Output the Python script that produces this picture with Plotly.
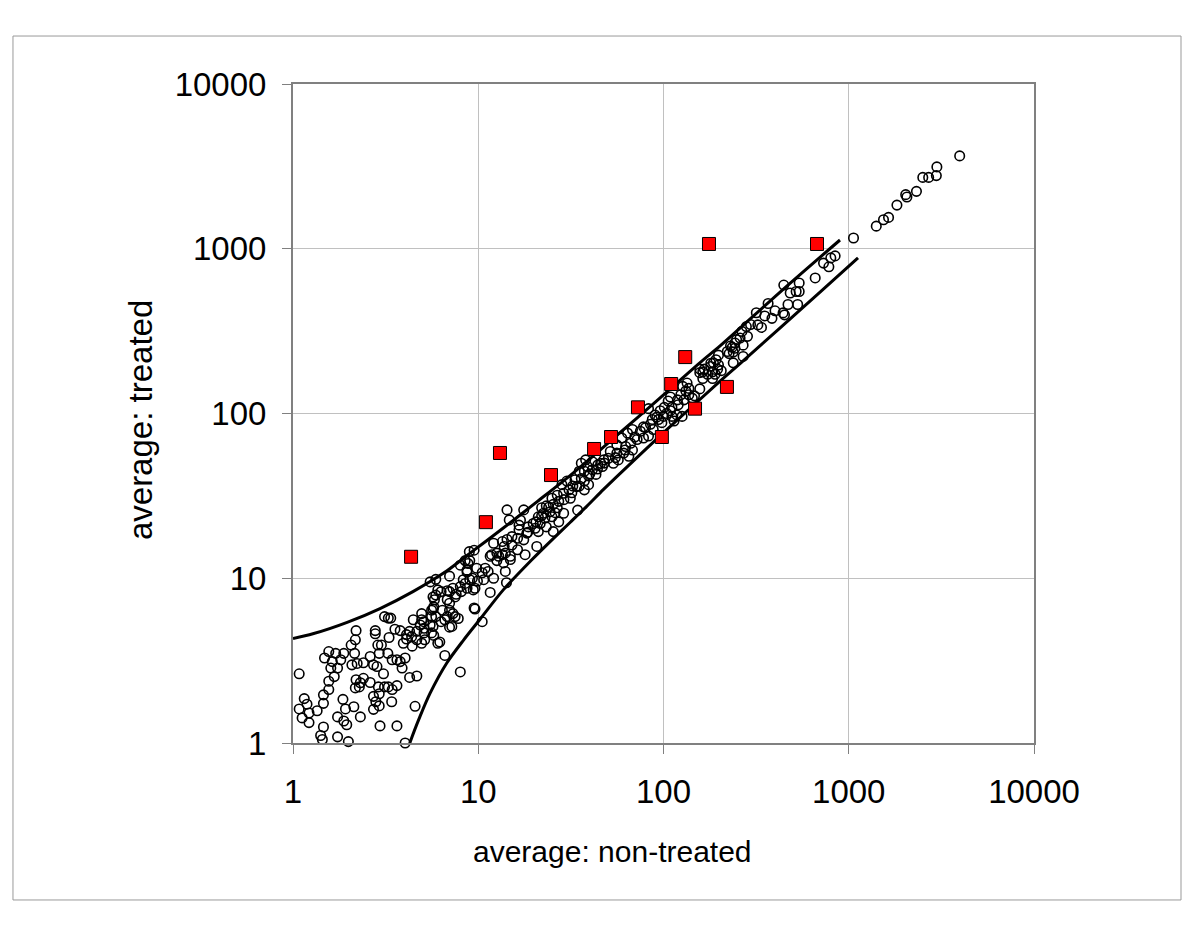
import plotly.graph_objects as go

# ---- data ----
circ_x = [1.08,1.15,1.19,1.08,1.12,1.22,1.22,1.35,1.46,1.46,
          1.56,1.56,1.46,1.41,1.44,1.74,1.99,1.74,1.88,1.95,
          1.92,1.86,2.13,2.31,1.48,1.56,1.70,1.63,1.81,1.88,
          1.6,1.74,1.67,2.06,2.17,2.19,2.15,2.08,2.22,2.4,
          2.61,2.72,2.78,2.78,2.87,3.0,2.92,3.25,2.84,3.08,
          2.19,2.31,2.4,2.17,2.28,2.61,2.72,2.89,3.12,2.92,
          2.8,2.72,2.92,3.27,3.43,3.64,3.41,2.95,3.64,3.12,
          3.27,3.37,3.55,3.79,3.3,3.43,3.64,3.79,3.88,4.03,
          4.26,4.66,4.56,4.03,3.94,4.1,4.37,4.26,4.46,4.95,
          5.08,4.86,4.66,4.95,5.14,5.6,5.5,5.6,5.7,4.4,
          7.0,5.5,5.9,6.3,5.9,6.8,7.3,8.5,8.1,7.5,
          8.7,9.3,9.6,8.8,8.0,9.6,8.0,5.7,5.75,6.4,
          5.9,6.6,7.3,7.8,7.2,6.2,5.75,6.6,7.0,
          14.3,14.7,16.6,12.1,13.5,14.3,15.2,16.3,12.6,13.5,
          11.6,14.9,12.6,13.7,14.9,8.95,9.5,8.5,9.0,8.7,
          9.8,10.9,10.5,11.3,12.1,14.0,14.2,11.6,10.7,9.9,
          9.0,8.3,8.0,8.7,9.4,7.0,7.6,6.8,6.05,5.8,
          7.0,7.5,6.8,6.3,5.6,4.95,5.7,5.1,4.1,4.66,
          5.1,6.05,7.0,9.5,10.5,
          51.6,56,50.4,47.6,53.6,46.8,44.2,41.3,38,36,
          38.8,41.3,37.4,35.1,43.2,39.4,36,33.3,37.4,39.4,
          35.1,32.4,30.1,28.3,30.9,37.4,28.9,31.4,26.7,25,
          27.2,25.4,23.3,22,26.7,28.9,34.4,24.4,22.5,21.1,
          22.9,25,27.2,21.6,19.8,23.3,20.3,18.6,17.6,16.9,
          16.6,18.3,21.1,25.4,15.2,16.3,17.6,13.8,20.7,11.8,
          12.9,14,17.9,
          192,180,166,157,173,184,163,196,134,127,
          132,124,137,129,143,109,106,101,109,96,
          90,100,94,87,83,85,80,88,75,83,
          78,72,68,64,59.5,66.5,62.5,56,68,61,
          57,45.8,65,111,118,126,
          157,186,221,235,248,238,205,190,157,147,137,119,111,114,98,
          659,446,540,483,520,540,470,530,367,400,
          317,352,385,450,323,338,295,265,284,259,
          243,230,243,269,238,226,198,180,198,269,
          163,184,844,800,731,781,442,280,
          1061,1408,1540,1640,1820,2030,2060,2320,2510,2700,2970,2990,3970,
          22,24,26,29,32,34,40,44,48,55,62,70,78,92,104,120,18.5,20.5]
circ_y = [2.63,1.86,1.72,1.61,1.42,1.52,1.33,1.57,1.74,1.96,
          2.11,2.37,1.25,1.11,1.05,1.09,1.02,1.44,1.36,1.29,
          1.61,1.84,1.66,1.44,3.28,3.59,3.5,3.12,3.2,3.5,
          2.85,2.85,2.53,3.93,4.23,4.81,3.5,2.98,3.04,3.07,
          3.35,2.98,4.81,4.6,3.93,3.93,3.5,3.5,2.91,2.63,
          2.42,2.32,2.47,2.16,2.19,2.33,1.92,2.19,2.19,1.99,
          1.78,1.6,1.68,2.19,2.11,2.23,1.78,1.27,1.27,5.85,
          5.73,5.73,4.9,4.81,4.37,3.2,3.2,3.12,2.85,3.28,
          2.5,2.55,1.67,1.0,4.03,4.28,4.42,4.76,5.6,6.1,
          5.45,5.2,4.76,4.03,4.23,4.66,5.2,5.85,6.5,3.87,
          10.3,9.5,9.85,8.3,7.9,8.4,8.7,9.3,8.3,7.7,
          10.9,10.0,8.7,12.3,12.0,6.5,2.7,7.7,6.7,6.4,
          5.85,5.6,6.1,5.7,5.1,4.1,4.5,3.4,7.05,
          26,22.6,21,16.3,16.7,17.2,15.9,14.9,14.2,13.9,
          13.6,13.6,12.8,12.4,13.0,14.5,14.8,12.8,12.8,11.2,
          11.5,11.5,10.8,11.0,10.0,11.0,9.4,8.2,9.8,9.6,
          9.8,9.8,8.9,8.7,8.5,8.3,8.0,7.4,8.5,7.4,
          6.4,5.85,5.85,5.45,6.4,5.6,5.1,4.97,4.55,4.23,
          4.66,4.03,5.05,6.6,5.45,
          58.8,57.5,53.5,52.3,49.9,47.7,48.8,51,52.3,49.9,
          47.7,45.6,44.6,44.6,42.7,41.8,40.3,39.6,38.9,37,
          36.3,36.3,38.9,37,34.4,34.4,32.8,30.6,31.9,30.6,
          29.3,28.1,27.5,26.8,26.8,24.8,25.9,25.3,24.8,23.6,
          23.2,23.6,22,21.5,21.5,20.5,20.1,20.5,26,22.5,
          19.7,18.8,19.2,19.2,17.9,17.5,17.1,15.6,15.6,13.9,
          13.6,14.2,13.9,
          212,193,186,177,173,163,163,186,153,146,
          137,130,130,121,124,126,119,109,104,104,
          98,96,92,92,107,86,82,80,78,73,
          71,69.5,80,76,71,66,63,64.5,60,57.5,
          52.3,49.9,55,96,98,96,
          186,203,238,252,281,203,182,173,141,128,142,121,109,90,88,
          665,602,620,539,550,550,459,459,465,420,
          409,391,378,397,345,333,347,315,294,287,
          268,257,249,260,236,231,226,202,197,222,
          179,179,905,880,818,777,408,337,
          1162,1371,1500,1550,1840,2130,2060,2230,2710,2710,2780,3140,3660,
          24,27,25,30,33,36,43,46,50,54,60,72,83,95,100,113,19,22]

sq_x = [4.34, 11.0, 13.1, 24.7, 42.2, 52.1, 72.8, 98, 110, 131, 148, 220, 176, 674]
sq_y = [13.5, 21.9, 57.6, 42.3, 60.9, 72, 109, 72, 151, 220, 107, 145, 1069, 1069]

upper_x = [1.0, 1.28, 1.96, 2.95, 4.44, 6.78, 9.03, 13.6, 20.8, 31.3, 44.3, 58.2, 84.6, 157, 202, 426, 897]
upper_y = [4.31, 4.6, 5.4, 6.55, 8.3, 11.1, 14.2, 20.1, 29.2, 42.0, 58.5, 76.5, 110, 203, 257, 546, 1130]

lower_x = [4.2, 4.3, 4.85, 5.49, 6.75, 8.31, 10.2, 13.65, 19.4, 25.4, 31.3, 38.5, 47.3, 58.2, 100, 202, 259, 700, 1122]
lower_y = [0.94, 1.02, 1.45, 2.0, 3.05, 4.2, 5.62, 8.5, 12.9, 17.4, 21.8, 27.3, 34.5, 43.2, 76.5, 157, 201, 545, 880]

tick_vals = [1, 10, 100, 1000, 10000]
tick_text = ["1", "10", "100", "1000", "10000"]
x_title = "average: non-treated"
y_title = "average: treated"

FONT = "Liberation Sans, Arial, Helvetica, sans-serif"

fig = go.Figure()
fig.add_trace(go.Scatter(
    x=circ_x, y=circ_y, mode="markers", cliponaxis=False,
    marker=dict(symbol="circle-open", size=9.5, color="black", line=dict(width=1.6, color="black")),
    hoverinfo="x+y"))
fig.add_trace(go.Scatter(x=upper_x, y=upper_y, mode="lines",
                         line=dict(color="black", width=3, shape="spline", smoothing=0.8)))
fig.add_trace(go.Scatter(x=lower_x, y=lower_y, mode="lines",
                         line=dict(color="black", width=3, shape="spline", smoothing=0.8)))
fig.add_trace(go.Scatter(
    x=sq_x, y=sq_y, mode="markers", cliponaxis=False,
    marker=dict(symbol="square", size=13, color="#ff0000", line=dict(width=1, color="black"))))

axis_common = dict(
    type="log", range=[0, 4], tickvals=tick_vals, ticktext=tick_text,
    ticks="outside", ticklen=9, tickwidth=1, tickcolor="#808080",
    showgrid=True, gridcolor="#c0c0c0", gridwidth=1,
    showline=True, linecolor="#808080", linewidth=2, mirror=True,
    zeroline=False, tickfont=dict(family=FONT, size=33, color="black"),
)
fig.update_xaxes(**axis_common, ticklabelstandoff=9)
fig.update_yaxes(**axis_common, ticklabelstandoff=9)

# page body has an 8px margin, so the figure is offset by 8px
fig.update_layout(
    width=1200, height=927,
    margin=dict(l=285, r=174, t=76, b=192),
    paper_bgcolor="white", plot_bgcolor="white",
    showlegend=False,
    font=dict(family=FONT, color="black"),
    shapes=[dict(type="rect", xref="paper", yref="paper",
                 x0=-0.3779, x1=1.1984, y0=-0.2382, y1=1.0728,
                 line=dict(color="#999999", width=1), layer="below")],
    annotations=[
        dict(text=x_title, xref="paper", yref="paper", x=0.4318, y=-0.165,
             xanchor="center", yanchor="middle", showarrow=False,
             font=dict(family=FONT, size=30, color="black")),
        dict(text=y_title, xref="paper", yref="paper", x=-0.2065, y=0.49,
             xanchor="center", yanchor="middle", showarrow=False, textangle=-90,
             font=dict(family=FONT, size=33, color="black")),
    ],
)

fig.write_html("out.html")
